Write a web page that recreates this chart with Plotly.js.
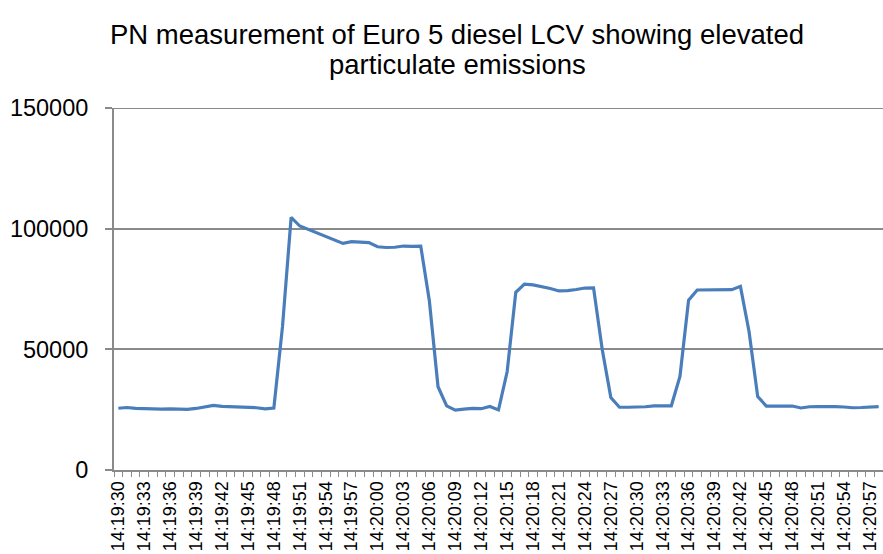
<!DOCTYPE html>
<html>
<head>
<meta charset="utf-8">
<script src="https://cdn.plot.ly/plotly-3.0.1.min.js"></script>
<style>html,body{margin:0;padding:0;background:#fff;}#chart{width:883px;height:554px;}</style>
</head>
<body>
<div id="chart"></div>
<script>
// Time stamps (one per second)
const times = [
"14:19:30","14:19:31","14:19:32","14:19:33","14:19:34","14:19:35","14:19:36","14:19:37","14:19:38","14:19:39",
"14:19:40","14:19:41","14:19:42","14:19:43","14:19:44","14:19:45","14:19:46","14:19:47","14:19:48","14:19:49",
"14:19:50","14:19:51","14:19:52","14:19:53","14:19:54","14:19:55","14:19:56","14:19:57","14:19:58","14:19:59",
"14:20:00","14:20:01","14:20:02","14:20:03","14:20:04","14:20:05","14:20:06","14:20:07","14:20:08","14:20:09",
"14:20:10","14:20:11","14:20:12","14:20:13","14:20:14","14:20:15","14:20:16","14:20:17","14:20:18","14:20:19",
"14:20:20","14:20:21","14:20:22","14:20:23","14:20:24","14:20:25","14:20:26","14:20:27","14:20:28","14:20:29",
"14:20:30","14:20:31","14:20:32","14:20:33","14:20:34","14:20:35","14:20:36","14:20:37","14:20:38","14:20:39",
"14:20:40","14:20:41","14:20:42","14:20:43","14:20:44","14:20:45","14:20:46","14:20:47","14:20:48","14:20:49",
"14:20:50","14:20:51","14:20:52","14:20:53","14:20:54","14:20:55","14:20:56","14:20:57","14:20:58"
];
// Particle number readings
const pn = [
25600,25900,25500,25300,25100,25200,25300,25300,25100,25500,
26200,26800,26400,26300,26100,26000,25800,25300,25700,59400,
104700,101100,99600,98300,96900,95300,93900,94600,94400,94200,
92500,92200,92300,92800,92700,92800,70000,34500,26600,24800,
25200,25500,25400,26300,24900,40700,73600,77000,76700,76000,
75200,74200,74300,74800,75400,75500,50000,30000,26000,26000,
26000,26200,26600,26600,26600,38800,70400,74600,74700,74800,
74800,74700,76100,57300,30400,26500,26500,26500,26500,25700,
26200,26300,26400,26300,26100,25800,25900,26000,26300
];
const yTicks = [0, 50000, 100000, 150000];
const titleLines = ["PN measurement of Euro 5 diesel LCV showing elevated", "particulate emissions"];

const idx = times.map((t, i) => i);
const labelIdx = idx.filter(i => i % 3 === 0);
const labelText = labelIdx.map(i => times[i]);
const FONT = "Liberation Sans, Arial, sans-serif";
const GRID = "#8a8a8a";

const trace = {
  x: idx,
  y: pn,
  type: "scatter",
  mode: "lines",
  line: {color: "#4a7ebb", width: 3.2},
  hoverinfo: "skip"
};

const layout = {
  width: 883,
  height: 554,
  margin: {l: 114, r: 0, t: 108, b: 84},
  paper_bgcolor: "#ffffff",
  plot_bgcolor: "#ffffff",
  showlegend: false,
  font: {family: FONT, color: "#000000"},
  title: {
    text: titleLines[0],
    font: {size: 27.5, color: "#000000", family: FONT},
    xref: "container", x: 457/883, xanchor: "center",
    yref: "container", y: 1 - 34/554, yanchor: "middle"
  },
  annotations: [{
    text: titleLines[1],
    font: {size: 27.5, color: "#000000", family: FONT},
    xref: "paper", yref: "paper",
    x: (457 - 114) / 769, xanchor: "center",
    y: 1 + (108 - 64) / 362, yanchor: "middle",
    showarrow: false
  }],
  shapes: [{
    type: "line", xref: "paper", yref: "y",
    x0: 0, x1: 1, y0: yTicks[yTicks.length - 1], y1: yTicks[yTicks.length - 1],
    line: {color: GRID, width: 2}, layer: "below"
  }],
  xaxis: {
    type: "linear",
    range: [-0.5, times.length - 0.5],
    tickmode: "array",
    tickvals: labelIdx,
    ticktext: labelText,
    tickangle: -90,
    ticks: "",
    showgrid: false,
    zeroline: false,
    showline: true,
    linecolor: GRID,
    linewidth: 2,
    tickfont: {size: 18, color: "#000000"},
    ticklabelstandoff: 2,
    minor: {
      tickmode: "linear",
      tick0: -0.5,
      dtick: 1,
      ticks: "outside",
      ticklen: 5,
      tickwidth: 1,
      tickcolor: GRID,
      showgrid: false
    },
    fixedrange: true
  },
  yaxis: {
    range: [0, 150000],
    tickmode: "array",
    tickvals: yTicks,
    ticktext: yTicks.map(String),
    ticks: "outside",
    ticklen: 7,
    tickwidth: 2,
    tickcolor: GRID,
    showgrid: true,
    gridcolor: GRID,
    gridwidth: 2,
    zeroline: false,
    showline: true,
    linecolor: GRID,
    linewidth: 2,
    tickfont: {size: 23.5, color: "#000000"},
    ticklabelstandoff: 12,
    fixedrange: true
  }
};

Plotly.newPlot("chart", [trace], layout, {displayModeBar: false, staticPlot: true});
</script>
</body>
</html>
